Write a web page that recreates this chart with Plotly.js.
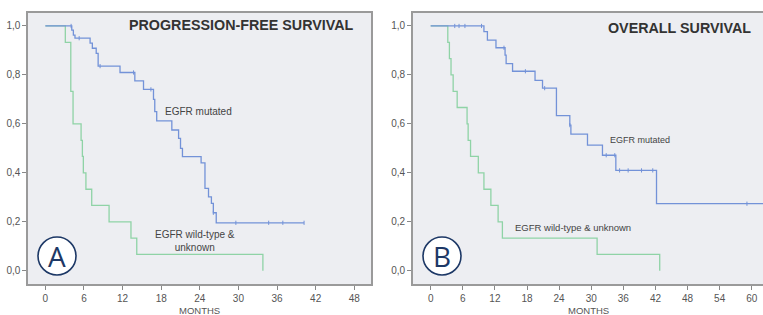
<!DOCTYPE html>
<html>
<head>
<meta charset="utf-8">
<script src="https://cdn.plot.ly/plotly-3.0.1.min.js"></script>
<style>html,body{margin:0;padding:0;background:#fff;}#chart{width:763px;height:315px;}</style>
</head>
<body>
<div id="chart"></div>
<script>
// ---- Panel A: progression-free survival ----
const pfsMutTime = [0, 4.1, 4.35, 4.6, 6.95, 7.3, 7.9, 8.2, 11.6, 13.9, 15.25, 16.8, 17.0, 17.3, 19.65, 20.7, 21.0, 21.3, 24.2, 24.8, 25.35, 25.8, 26.1, 26.55, 40.2];
const pfsMutSurv = [1.0, 0.983, 0.963, 0.95, 0.93, 0.909, 0.888, 0.836, 0.81, 0.776, 0.741, 0.70, 0.65, 0.612, 0.575, 0.541, 0.50, 0.466, 0.441, 0.337, 0.302, 0.275, 0.237, 0.196, 0.196];
const pfsMutCensTime = [4.0, 5.25, 8.5, 13.7, 16.4, 26.1, 29.6, 34.7, 36.9, 40.2];
const pfsMutCensSurv = [1.0, 0.95, 0.836, 0.81, 0.741, 0.237, 0.196, 0.196, 0.196, 0.196];
const pfsWtTime = [0, 3.1, 3.95, 4.3, 5.55, 5.75, 5.9, 6.3, 7.2, 9.9, 13.3, 14.2, 33.8];
const pfsWtSurv = [1.0, 0.933, 0.733, 0.6, 0.533, 0.467, 0.4, 0.333, 0.267, 0.2, 0.133, 0.067, 0.0];

// ---- Panel B: overall survival ----
const osMutTime = [0, 9.95, 10.6, 12.2, 13.9, 14.1, 15.3, 19.5, 20.9, 23.5, 26.0, 26.2, 29.3, 32.1, 34.6, 42.2, 63];
const osMutSurv = [1.0, 0.977, 0.942, 0.911, 0.881, 0.846, 0.815, 0.778, 0.746, 0.634, 0.595, 0.558, 0.513, 0.472, 0.41, 0.274, 0.274];
const osMutCensTime = [4.5, 5.3, 6.4, 9.5, 13.7, 17.7, 21.3, 26.0, 32.8, 34.4, 35.3, 36.9, 39.4, 41.5, 59.1];
const osMutCensSurv = [1.0, 1.0, 1.0, 1.0, 0.911, 0.815, 0.746, 0.595, 0.472, 0.472, 0.41, 0.41, 0.41, 0.41, 0.274];
const osWtTime = [0, 3.2, 3.5, 3.8, 4.2, 4.95, 6.8, 7.0, 7.45, 8.9, 9.95, 11.25, 12.6, 13.4, 31.1, 42.8];
const osWtSurv = [1.0, 0.933, 0.867, 0.8, 0.733, 0.667, 0.6, 0.533, 0.467, 0.4, 0.333, 0.267, 0.2, 0.133, 0.067, 0.0];

// ---- tick labels ----
const yTickVals = [0, 0.2, 0.4, 0.6, 0.8, 1.0];
const yTickText = ["0,0", "0,2", "0,4", "0,6", "0,8", "1,0"];
const xTicksA = [0, 6, 12, 18, 24, 30, 36, 42, 48];
const xTicksB = [0, 6, 12, 18, 24, 30, 36, 42, 48, 54, 60];

const BLUE = '#7392d8';
const GREEN = '#8fd3a6';
const W = 763, H = 315;
const px = v => v / W;
const py = v => 1 - v / H;

function line(x, y, color, xa, ya) {
  return {x: x, y: y, type: 'scatter', mode: 'lines', line: {color: color, width: 1.3, shape: 'hv'},
          xaxis: xa, yaxis: ya, hoverinfo: 'skip', showlegend: false};
}
function cens(x, y, color, xa, ya) {
  return {x: x, y: y, type: 'scatter', mode: 'markers',
          marker: {symbol: 'line-ns-open', size: 3, color: color, line: {color: color, width: 1}},
          xaxis: xa, yaxis: ya, hoverinfo: 'skip', showlegend: false};
}

const data = [
  line(pfsWtTime, pfsWtSurv, GREEN, 'x', 'y'),
  line(pfsMutTime, pfsMutSurv, BLUE, 'x', 'y'),
  cens(pfsMutCensTime, pfsMutCensSurv, BLUE, 'x', 'y'),
  line(osWtTime, osWtSurv, GREEN, 'x2', 'y2'),
  line(osMutTime, osMutSurv, BLUE, 'x2', 'y2'),
  cens(osMutCensTime, osMutCensSurv, BLUE, 'x2', 'y2')
];

const tickFont = {family: 'Liberation Sans, Arial, sans-serif', size: 10, color: '#555'};
const frame = '#9a9a9a';
const yDom = [py(284), py(13)];
const yRange = [-0.054, 1.053];

function xAxis(dom, range, ticks, anchor, mirror) {
  return {domain: dom, range: range, anchor: anchor, tickvals: ticks, ticktext: ticks.map(String),
          ticks: 'outside', ticklen: 4, tickwidth: 1, tickcolor: '#888', tickfont: tickFont,
          showgrid: false, zeroline: false, showline: true, linecolor: frame, linewidth: 1.6, mirror: mirror,
          fixedrange: true};
}
function yAxis(anchor, mirror) {
  return {domain: yDom, range: yRange, anchor: anchor, tickvals: yTickVals, ticktext: yTickText,
          ticks: 'outside', ticklen: 4, tickwidth: 1, tickcolor: '#888', tickfont: tickFont,
          showgrid: false, zeroline: false, showline: true, linecolor: frame, linewidth: 1.6, mirror: mirror,
          fixedrange: true};
}

const labelFont = {family: 'Liberation Sans, Arial, sans-serif', size: 10, color: '#444'};
const titleFont = {family: 'Liberation Sans, Arial, sans-serif', size: 14.3, color: '#333'};
const letterFont = {family: 'Open Sans, sans-serif', size: 28, color: '#1d3866'};
const monthsFont = {family: 'Liberation Sans, Arial, sans-serif', size: 9.5, color: '#555'};

const layout = {
  width: W, height: H,
  margin: {l: 0, r: 0, t: 0, b: 0},
  paper_bgcolor: '#ffffff',
  plot_bgcolor: '#edeef2',
  showlegend: false,
  xaxis: xAxis([px(28), px(371)], [-2.7, 50.6], xTicksA, 'y', true),
  yaxis: yAxis('x', true),
  xaxis2: xAxis([px(412.7), 1], [-3.36, 62.1], xTicksB, 'y2', true),
  yaxis2: yAxis('x2', false),
  shapes: [
    {type: 'rect', xref: 'paper', yref: 'paper', x0: px(412.7), x1: 1, y0: yDom[0], y1: yDom[1],
     fillcolor: '#edeef2', line: {width: 0}, layer: 'below'},
    {type: 'circle', xref: 'paper', yref: 'paper', x0: px(38), x1: px(76), y0: py(275), y1: py(237),
     fillcolor: '#ffffff', line: {color: '#1d3866', width: 1.6}},
    {type: 'circle', xref: 'paper', yref: 'paper', x0: px(423), x1: px(461), y0: py(275), y1: py(237),
     fillcolor: '#ffffff', line: {color: '#1d3866', width: 1.6}}
  ],
  annotations: [
    {xref: 'paper', yref: 'paper', x: px(356), y: py(25), xanchor: 'right', yanchor: 'middle',
     text: '<b>PROGRESSION-FREE SURVIVAL</b>', showarrow: false, font: titleFont},
    {xref: 'paper', yref: 'paper', x: px(753), y: py(28), xanchor: 'right', yanchor: 'middle',
     text: '<b>OVERALL SURVIVAL</b>', showarrow: false, font: titleFont},
    {xref: 'x', yref: 'y', x: 18.3, y: 0.65, xanchor: 'left', yanchor: 'middle',
     text: 'EGFR mutated', showarrow: false, font: labelFont},
    {xref: 'x', yref: 'y', x: 23.2, y: 0.12, xanchor: 'center', yanchor: 'middle',
     text: 'EGFR wild-type &amp;<br>unknown', showarrow: false, font: labelFont},
    {xref: 'x2', yref: 'y2', x: 33.1, y: 0.535, xanchor: 'left', yanchor: 'middle',
     text: 'EGFR mutated', showarrow: false, font: Object.assign({}, labelFont, {size: 9})},
    {xref: 'x2', yref: 'y2', x: 15.3, y: 0.178, xanchor: 'left', yanchor: 'middle',
     text: 'EGFR wild-type &amp; unknown', showarrow: false, font: Object.assign({}, labelFont, {size: 9.5})},
    {xref: 'paper', yref: 'paper', x: px(199.5), y: py(310), xanchor: 'center', yanchor: 'middle',
     text: 'MONTHS', showarrow: false, font: monthsFont},
    {xref: 'paper', yref: 'paper', x: px(588), y: py(310), xanchor: 'center', yanchor: 'middle',
     text: 'MONTHS', showarrow: false, font: monthsFont},
    {xref: 'paper', yref: 'paper', x: px(57), y: py(256), xanchor: 'center', yanchor: 'middle',
     text: 'A', showarrow: false, font: letterFont},
    {xref: 'paper', yref: 'paper', x: px(442), y: py(256), xanchor: 'center', yanchor: 'middle',
     text: 'B', showarrow: false, font: letterFont}
  ]
};

Plotly.newPlot('chart', data, layout, {staticPlot: true, displayModeBar: false});
</script>
</body>
</html>
